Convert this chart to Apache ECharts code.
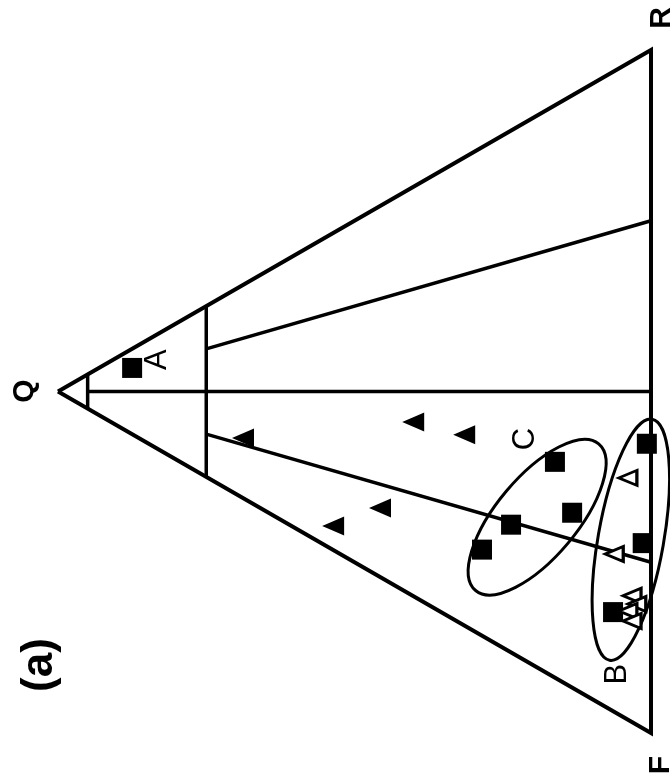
<!DOCTYPE html>
<html>
<head>
<meta charset="utf-8">
<script src="https://cdn.jsdelivr.net/npm/echarts@6/dist/echarts.min.js"></script>
<style>
  html, body { margin: 0; padding: 0; background: #fff; }
  #chart { width: 670px; height: 782px; }
</style>
</head>
<body>
<div id="chart"></div>
<script>
// All compositions are [Q, F, R] in percent.
const solidSquares = [
  [87.5, 2.8, 9.7],
  [16.2, 52.2, 31.6],
  [13.3, 61.1, 25.6],
  [23.6, 57.7, 18.7],
  [28.5, 58.9, 12.6],
  [0.7, 57.3, 42.0],
  [1.4, 71.5, 27.1],
  [6.4, 79.1, 14.5]
];
const solidTriangles = [
  [68.8, 22.4, 8.8],
  [40.1, 34.4, 25.5],
  [31.5, 40.6, 27.9],
  [45.7, 44.2, 10.1],
  [53.6, 42.9, 3.5]
];
const openTriangles = [
  [3.9, 60.7, 35.4],
  [6.2, 70.7, 23.1],
  [3.2, 78.3, 18.5],
  [2.4, 79.9, 17.7],
  [3.9, 80.2, 15.9],
  [3.2, 82.0, 14.8]
];

// Triangle corners and classification boundaries (end compositions)
const corners = [[100, 0, 0], [0, 100, 0], [0, 0, 100]];
const cornerNames = ['Q', 'F', 'R'];
const fieldLines = [
  [[95, 5, 0], [95, 0, 5]],
  [[75, 25, 0], [75, 0, 25]],
  [[95, 2.5, 2.5], [0, 50, 50]],
  [[75, 6.25, 18.75], [0, 25, 75]],
  [[75, 18.75, 6.25], [0, 75, 25]]
];

// Group labels and envelopes: centre, semi-axes (% of side), tilt (deg)
const groupNames = ['A', 'B', 'C'];
const groupLabelPos = [[83.3, 3.7, 13.0], [5.6, 88.6, 5.8], [21.1, 46.4, 32.5]];
const envelopeCentres = [[19.2, 58.8, 22.0], [3.4, 70.0, 26.6]];
const envelopeAxes = [[14.0, 5.9], [17.9, 4.8]];
const envelopeTilt = [50, 80];

const H = Math.sqrt(3) / 2;
// Plot frame: x runs from the Q apex toward the F–R side, y runs from R to F.
function toXY(c) {
  const q = c[0], f = c[1];
  return [(100 - q) * H, f + q / 2];
}

const FONT = '"Liberation Sans", Arial, Helvetica, sans-serif';

const series = [];

// Outline of the triangle
series.push({
  type: 'line',
  data: [corners[0], corners[1], corners[2], corners[0]].map(toXY),
  symbol: 'none',
  silent: true,
  clip: false,
  lineStyle: { color: '#000', width: 4, join: 'miter' },
  z: 2
});

// Field boundaries
fieldLines.forEach(function (seg) {
  series.push({
    type: 'line',
    data: seg.map(toXY),
    symbol: 'none',
    silent: true,
    clip: false,
    lineStyle: { color: '#000', width: 3.5 },
    z: 2
  });
});

// Group envelopes
series.push({
  type: 'custom',
  silent: true,
  clip: false,
  data: envelopeCentres.map(function (c, i) {
    const p = toXY(c);
    return [p[0], p[1], envelopeAxes[i][0], envelopeAxes[i][1], envelopeTilt[i]];
  }),
  renderItem: function (params, api) {
    const c = api.coord([api.value(0), api.value(1)]);
    const s = api.size([1, 1]);
    const unit = (s[0] + s[1]) / 2;
    return {
      type: 'ellipse',
      x: c[0],
      y: c[1],
      rotation: api.value(4) * Math.PI / 180,
      shape: { cx: 0, cy: 0, rx: api.value(2) * unit, ry: api.value(3) * unit },
      style: { fill: 'none', stroke: '#000', lineWidth: 3 }
    };
  },
  z: 3
});

// Samples
series.push({
  type: 'scatter',
  data: solidSquares.map(toXY),
  symbol: 'rect',
  symbolSize: 20,
  itemStyle: { color: '#000', opacity: 1 },
  clip: false,
  z: 4
});
series.push({
  type: 'scatter',
  data: solidTriangles.map(toXY),
  symbol: 'triangle',
  symbolSize: [19, 22],
  symbolRotate: 90,
  itemStyle: { color: '#000', opacity: 1 },
  clip: false,
  z: 4
});
series.push({
  type: 'scatter',
  data: openTriangles.map(toXY),
  symbol: 'triangle',
  symbolSize: [15, 18],
  symbolRotate: 90,
  itemStyle: { color: '#fff', borderColor: '#000', borderWidth: 3, opacity: 1 },
  clip: false,
  z: 5
});

// Group labels
series.push({
  type: 'custom',
  silent: true,
  clip: false,
  data: groupLabelPos.map(function (c, i) {
    const p = toXY(c);
    return [p[0], p[1], i];
  }),
  renderItem: function (params, api) {
    const c = api.coord([api.value(0), api.value(1)]);
    return {
      type: 'text',
      x: c[0],
      y: c[1],
      rotation: Math.PI / 2,
      style: {
        text: groupNames[api.value(2)],
        font: '31px ' + FONT,
        fill: '#000',
        align: 'center',
        verticalAlign: 'middle',
        textAlign: 'center',
        textVerticalAlign: 'middle'
      }
    };
  },
  z: 6
});

function rotatedText(text, x, y, size) {
  return {
    type: 'text',
    x: x,
    y: y,
    rotation: Math.PI / 2,
    style: {
      text: text,
      font: 'bold ' + size + 'px ' + FONT,
      fill: '#000',
      textAlign: 'center',
      textVerticalAlign: 'middle',
      align: 'center',
      verticalAlign: 'middle'
    },
    z: 10
  };
}

const chart = echarts.init(document.getElementById('chart'), null, { renderer: 'canvas' });
chart.setOption({
  animation: false,
  backgroundColor: '#fff',
  grid: { left: 58, right: 19, top: 50, bottom: 49 },
  xAxis: {
    type: 'value', min: 0, max: 100 * H,
    show: false, splitLine: { show: false }
  },
  yAxis: {
    type: 'value', min: 0, max: 100, inverse: true,
    show: false, splitLine: { show: false }
  },
  series: series,
  graphic: [
    rotatedText(cornerNames[0], 25, 391, 30),
    rotatedText(cornerNames[1], 661, 765, 30),
    rotatedText(cornerNames[2], 662, 18, 30),
    rotatedText('(a)', 40, 665, 44)
  ]
});
</script>
</body>
</html>
